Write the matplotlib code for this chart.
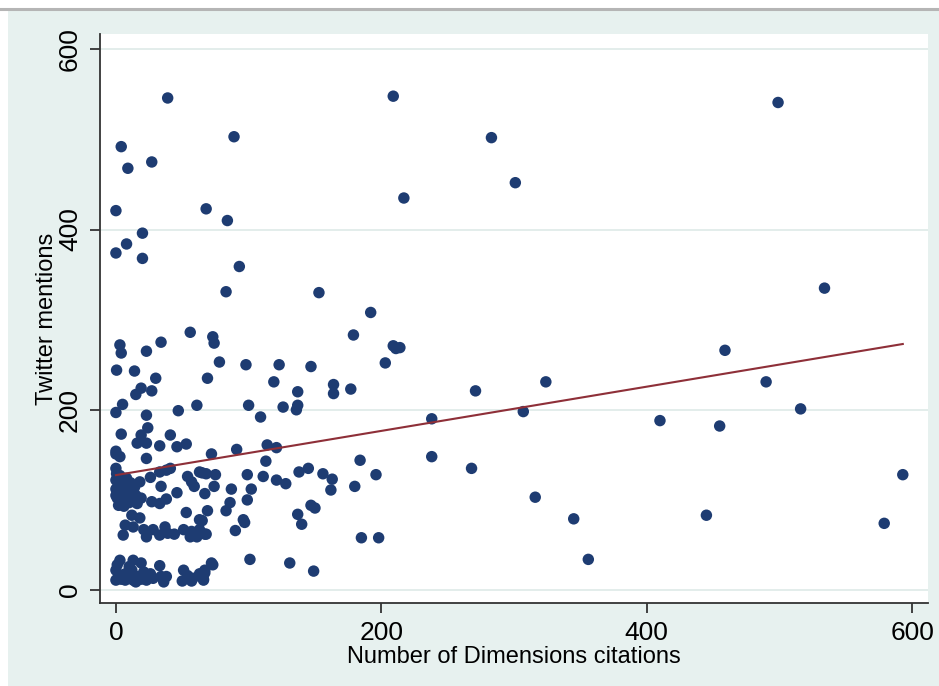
import matplotlib
matplotlib.use("Agg")
import matplotlib.pyplot as plt
from matplotlib.patches import Rectangle

plt.rcParams['font.family'] = ['Liberation Sans Narrow', 'Liberation Sans', 'DejaVu Sans']

# Number of Dimensions citations (x) and Twitter mentions (y)
citations = [
    39, 209, 89, 4, 9, 27, 0, 68, 84, 217, 20, 8, 0, 20, 93, 83, 153, 192, 499, 283,
    301, 534, 214, 459, 324, 271, 490, 238, 307, 410, 455, 516, 238, 268, 316, 345, 445, 579, 593, 356,
    179, 209, 211, 203, 98, 123, 147, 119, 164, 164, 177, 137, 100, 126, 137, 136, 109, 91, 114, 121,
    56, 73, 74, 3, 4, 34, 23, 78, 0.5, 14, 30, 69, 19, 15, 27, 5, 0, 61, 47, 23, 24, 4, 19, 16, 23, 41, 33, 46, 53, 0,
    72, 113, 65, 68, 75, 99, 111, 121, 128, 138, 145, 156, 163, 162, 74, 87, 102, 67, 99, 86, 83, 69, 147, 150,
    137, 140, 65, 96, 97, 90, 67, 101, 131, 149, 73, 67, 66,
    184, 196, 180, 185, 198,
    0, 3, 23, 0, 0.5, 33, 41, 38, 26, 54, 63,
    18, 34, 57, 59, 46, 19, 27, 33, 38, 53, 63, 12, 18, 7, 13, 5.5, 21, 23, 28, 33, 37, 39, 44, 51, 57, 63, 61, 68, 56,
    0, 2, 5, 8, 11, 14, 0, 3, 6, 9, 12, 15, 1, 4, 7, 10, 13, 2, 6, 16, 0, 8, 3,
    3, 13, 19, 33, 72, 0, 2, 7, 12, 16, 21, 26, 28, 34, 38, 51, 54, 58, 63, 67, 0, 7, 13, 19, 36, 50, 57, 66,
    1, 4, 9, 10, 15, 23,
]
mentions = [
    546, 548, 503, 492, 468, 475, 421, 423, 410, 435, 396, 384, 374, 368, 359, 331, 330, 308, 541, 502,
    452, 335, 269, 266, 231, 221, 231, 190, 198, 188, 182, 201, 148, 135, 103, 79, 83, 74, 128, 34,
    283, 271, 268, 252, 250, 250, 248, 231, 228, 218, 223, 220, 205, 203, 205, 200, 192, 156, 161, 158,
    286, 281, 274, 272, 263, 275, 265, 253, 244, 243, 235, 235, 224, 217, 221, 206, 197, 205, 199, 194, 180, 173, 172, 163, 163, 172, 160, 159, 162, 154,
    151, 143, 130, 129, 128, 128, 126, 122, 118, 131, 135, 129, 123, 111, 115, 112, 112, 107, 100, 97, 88, 88, 94, 91,
    84, 73, 77, 78, 75, 66, 62, 34, 30, 21, 28, 19, 12,
    144, 128, 115, 58, 58,
    151, 148, 146, 135, 129, 131, 135, 133, 125, 126, 131,
    120, 115, 120, 115, 108, 102, 98, 96, 101, 86, 78, 83, 80, 72, 70, 61, 67, 59, 67, 61, 70, 63, 62, 67, 65, 67, 59, 62, 59,
    122, 118, 120, 116, 119, 114, 112, 108, 111, 106, 110, 105, 102, 98, 103, 97, 100, 94, 93, 96, 105, 124, 127,
    33, 33, 30, 27, 30, 22, 15, 18, 22, 15, 20, 18, 13, 15, 15, 22, 16, 13, 18, 22, 11, 11, 11, 12, 9, 10, 10, 11,
    28, 12, 14, 26, 9, 11,
]

# Fitted values (linear fit)
fit_x = [0, 593]
fit_y = [127.5, 273]

x_ticks = [0, 200, 400, 600]
y_ticks = [0, 200, 400, 600]
x_title = "Number of Dimensions citations"
y_title = "Twitter mentions"

W, H = 939, 686
fig = plt.figure(figsize=(W / 100, H / 100), dpi=100, facecolor='white')

# graph region background (Stata-like) in a background axes
bg = fig.add_axes([0, 0, 1, 1], zorder=-10)
bg.set_axis_off()
bg.set_xlim(0, W)
bg.set_ylim(H, 0)
bg.add_patch(Rectangle((8, 10), W - 8, H - 10, facecolor='#E7F1EF', edgecolor='none'))
bg.plot([0, W], [9, 9], color='#B5B5B5', linewidth=2.2)

ax = fig.add_axes([100 / W, 1 - 603 / H, 828 / W, 569 / H], zorder=1)
ax.set_facecolor('white')
ax.set_xlim(-12, 612)
ax.set_ylim(-14.4, 617)

for yv in y_ticks:
    ax.axhline(yv, color='#E3EDEB', linewidth=1.4, zorder=1)

ax.scatter(citations, mentions, s=68, color='#1E3C72', edgecolors='none', zorder=3)
ax.plot(fit_x, fit_y, color='#8E2F38', linewidth=1.5, zorder=4)

for side in ['top', 'right']:
    ax.spines[side].set_visible(False)
for side in ['left', 'bottom']:
    ax.spines[side].set_color('#333333')
    ax.spines[side].set_linewidth(1.3)

ax.set_xticks(x_ticks)
ax.set_yticks(y_ticks)
ax.tick_params(axis='both', length=7, width=1.3, color='#333333', labelsize=19, pad=6)
for lab in ax.get_yticklabels():
    lab.set_rotation(90)
    lab.set_va('center')

ax.set_xlabel(x_title, fontsize=17, labelpad=1)
ax.set_ylabel(y_title, fontsize=17, labelpad=0)

fig.savefig('out.png', dpi=100, facecolor='white')
